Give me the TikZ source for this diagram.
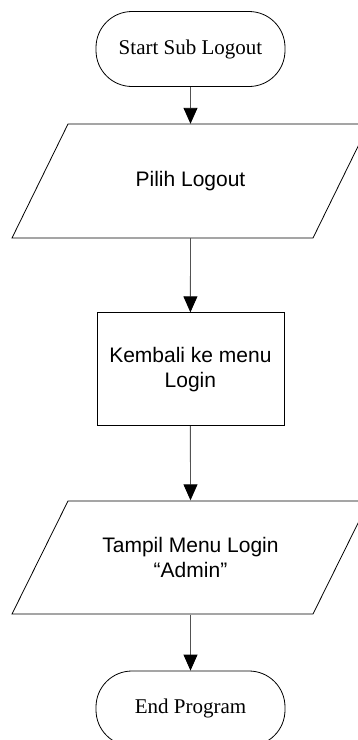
\documentclass[tikz,border=0pt]{standalone}
\usepackage{fontspec}
\setmainfont{Liberation Serif}
\newfontfamily\arialfont{Liberation Sans}
\usetikzlibrary{arrows.meta}

\definecolor{linegray}{rgb}{0.32, 0.32, 0.32}

\begin{document}
\begin{tikzpicture}[x=1pt,y=1pt,yscale=-1,xscale=1,
		terminal/.style={draw=black, rounded corners=36pt, minimum width=189pt, minimum height=75pt, inner sep=0.75pt, font=\fontsize{21}{25}\selectfont},
		process/.style={draw=black, minimum width=187pt, minimum height=113pt, inner sep=0.75pt, align=center, font=\arialfont\fontsize{21}{25}\selectfont},
		iobox/.style={minimum width=187pt, minimum height=114pt, inner sep=0.75pt, align=center, font=\arialfont\fontsize{21}{25}\selectfont},
		flow/.style={draw=linegray, line width=0.9pt, -{Triangle[length=16pt,width=14pt,color=black]}}]
		% Set diagram to 358 x 740
		\useasboundingbox (0,0) rectangle (358,740);

		% Draw the two parallelograms (input / output), right side runs off the page
		\draw[black, line width=0.8pt] (68,124) -- (369,124) -- (313,238) -- (12,238) -- cycle;
		\draw[black, line width=0.8pt] (68,501) -- (369,501) -- (313,614) -- (12,614) -- cycle;

		% The terminals "Start Sub Logout" and "End Program"
		\node[terminal, line width=0.8pt] (start) at (190.5,49) {Start Sub Logout};
		\node[terminal, line width=0.8pt] (endprog) at (190.5,708.5) {End Program};

		% The texts inside the parallelograms
		\node[iobox] (pilih) at (190.5,181) {Pilih Logout};
		\node[iobox] (tampil) at (190.5,557.5) {Tampil Menu Login\\“Admin”};

		% The process box
		\node[process, line width=0.8pt] (kembali) at (190.4,369.2) {Kembali ke menu\\Login};

		% The arrows from top to bottom
		\draw[flow] (start.south) -- (pilih.north);
		\draw[flow] (pilih.south) -- (kembali.north);
		\draw[flow] (kembali.south) -- (tampil.north);
		\draw[flow] (tampil.south) -- (endprog.north);
	\end{tikzpicture}
\end{document}
